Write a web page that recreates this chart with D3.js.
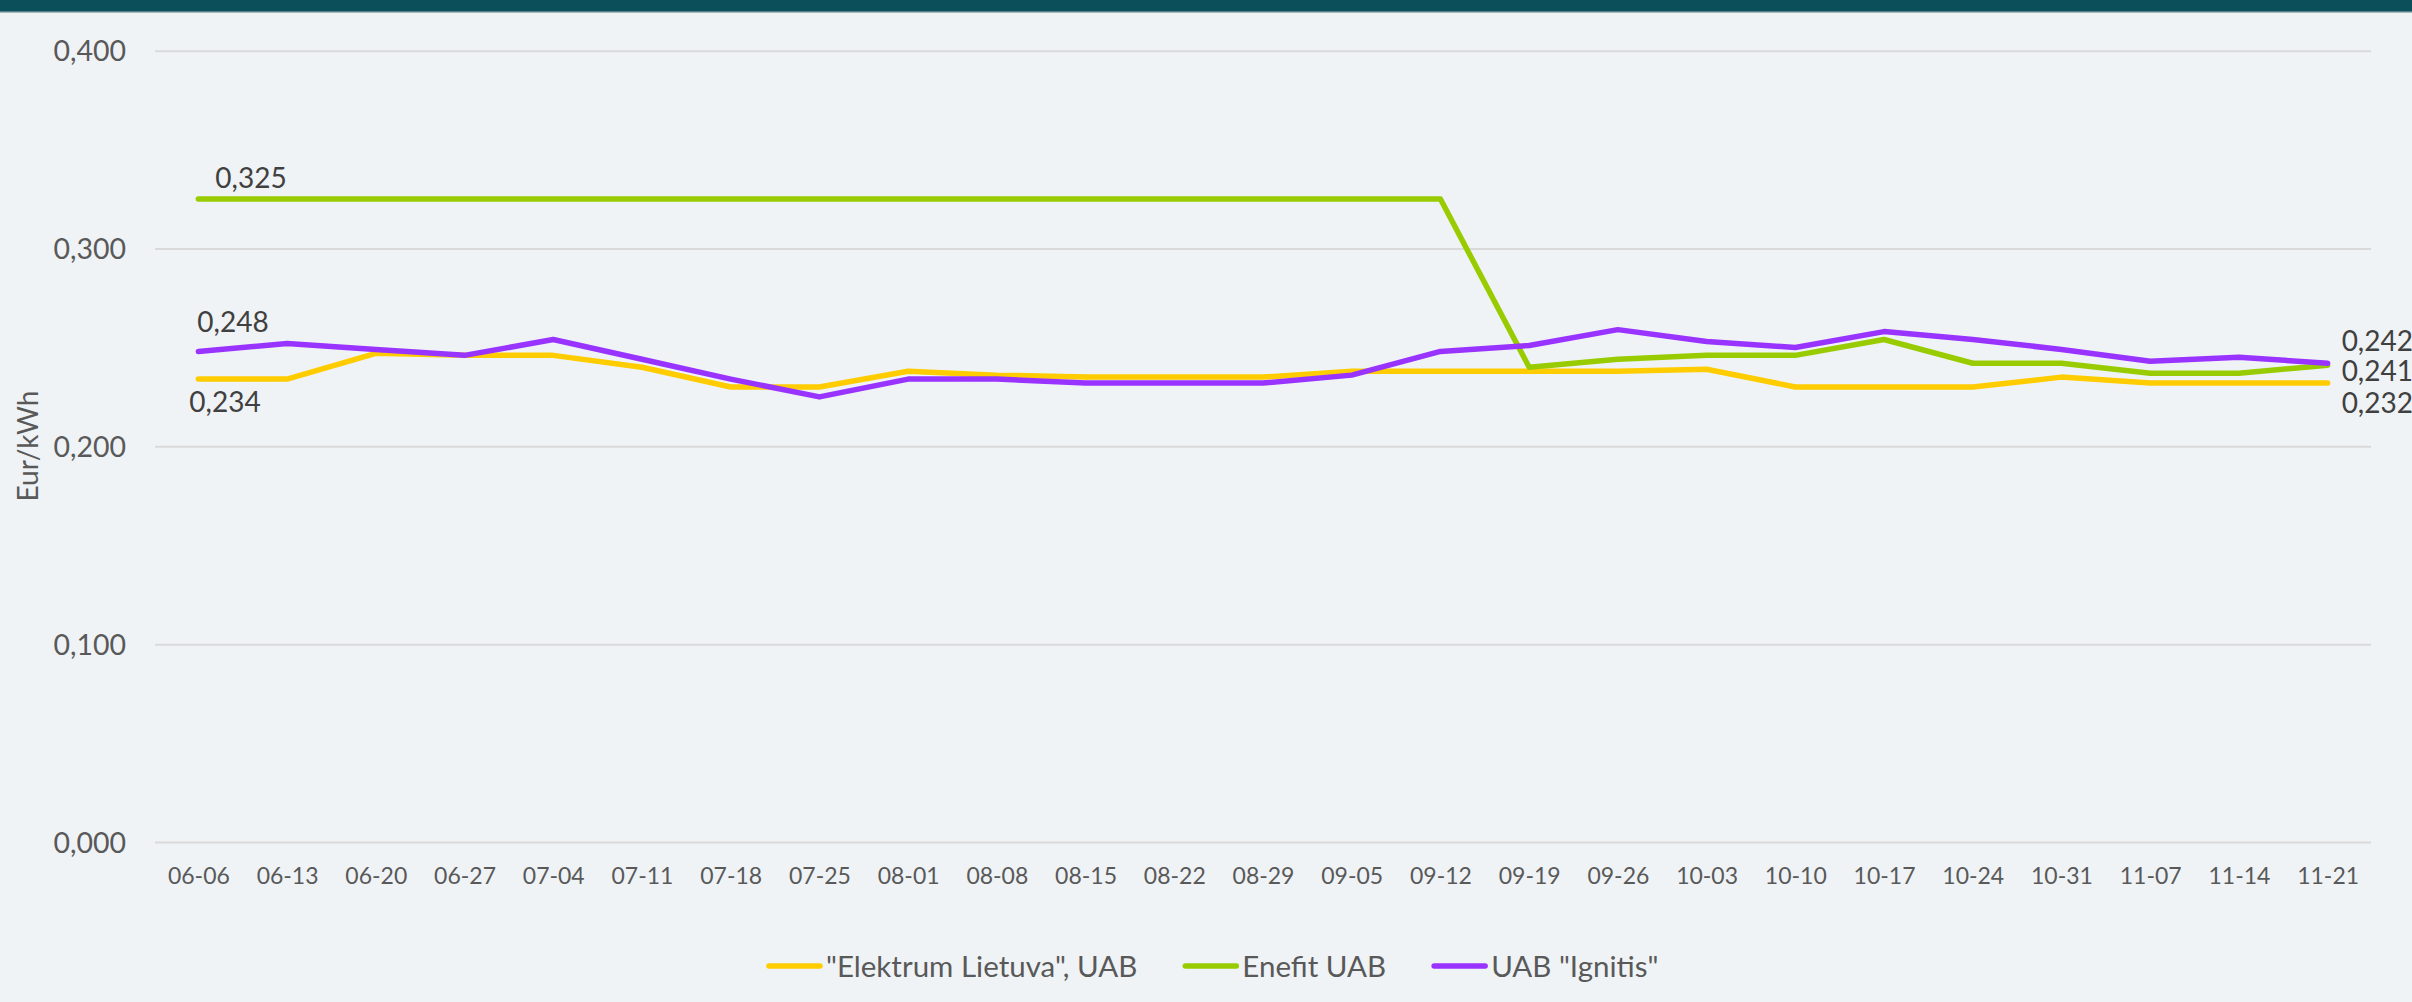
<!DOCTYPE html>
<html><head><meta charset="utf-8">
<script src="https://cdn.jsdelivr.net/npm/d3@7"></script>
<style>
html,body{margin:0;padding:0;background:#eff3f6;}
svg{display:block;}
text{font-family:Lato, "Open Sans", sans-serif;}
</style></head><body>
<svg id="chart" width="2412" height="1002"></svg>
<script>
const categories = ["06-06","06-13","06-20","06-27","07-04","07-11","07-18","07-25","08-01","08-08","08-15","08-22","08-29","09-05","09-12","09-19","09-26","10-03","10-10","10-17","10-24","10-31","11-07","11-14","11-21"];
const elektrum = [0.234,0.234,0.247,0.246,0.246,0.240,0.230,0.230,0.238,0.236,0.235,0.235,0.235,0.238,0.238,0.238,0.238,0.239,0.230,0.230,0.230,0.235,0.232,0.232,0.232];
const enefit   = [0.325,0.325,0.325,0.325,0.325,0.325,0.325,0.325,0.325,0.325,0.325,0.325,0.325,0.325,0.325,0.240,0.244,0.246,0.246,0.254,0.242,0.242,0.237,0.237,0.241];
const ignitis  = [0.248,0.252,0.249,0.246,0.254,0.244,0.234,0.225,0.234,0.234,0.232,0.232,0.232,0.236,0.248,0.251,0.259,0.253,0.250,0.258,0.254,0.249,0.243,0.245,0.242];
const seriesNames = ['"Elektrum Lietuva", UAB', 'Enefit UAB', 'UAB "Ignitis"'];
const seriesColors = ["#ffcc00", "#99cc00", "#9933ff"];
const yTicks = [0, 0.1, 0.2, 0.3, 0.4];
const yTitle = "Eur/kWh";

(function(){
const W = 2412, H = 1002;
const pLeft = 155, pRight = 2371, pTop = 50.7, pBottom = 842;
const svg = d3.select("#chart");
const loc = d3.formatLocale({decimal: ",", thousands: " ", grouping: [3], currency: ["", " €"]});
const fmt = loc.format(".3f");

svg.append("rect").attr("x",0).attr("y",0).attr("width",W).attr("height",H).attr("fill","#eff3f6");
svg.append("rect").attr("x",0).attr("y",0).attr("width",W).attr("height",12).attr("fill","#0b4f5a");
svg.append("rect").attr("x",0).attr("y",11).attr("width",W).attr("height",1.5).attr("fill","#5a8088");

const x = d3.scalePoint().domain(categories).range([154, 2372]).padding(0.5);
const y = d3.scaleLinear().domain([0, 0.4]).range([pBottom, pTop]);

// y axis + gridlines
const yAxis = svg.append("g").attr("transform", `translate(${pLeft},0)`)
  .call(d3.axisLeft(y).tickValues(yTicks).tickFormat(fmt).tickSizeInner(-(pRight-pLeft)).tickSizeOuter(0).tickPadding(29));
yAxis.select(".domain").remove();
yAxis.selectAll(".tick line").attr("stroke","#d9d9d9").attr("stroke-width",2);
yAxis.selectAll(".tick text").attr("fill","#595959").attr("font-size",28.5).attr("dy","0.36em").attr("font-family","Lato");

// x axis
const xAxis = svg.append("g").attr("transform", `translate(0,${pBottom})`)
  .call(d3.axisBottom(x).tickSize(0).tickPadding(26));
xAxis.select(".domain").remove();
xAxis.selectAll(".tick text").attr("fill","#595959").attr("font-size",23).attr("font-family","Lato");

// y title
svg.append("text").attr("transform","translate(38,446) rotate(-90)")
  .attr("text-anchor","middle").attr("font-size",28).attr("fill","#595959").text(yTitle);

// lines
const series = [elektrum, enefit, ignitis];
const line = d3.line().x((d,i)=>x(categories[i])).y(d=>y(d));
series.forEach((s, k) => {
  svg.append("path").datum(s).attr("d", line).attr("fill","none")
    .attr("stroke", seriesColors[k]).attr("stroke-width",5.5)
    .attr("stroke-linejoin","round").attr("stroke-linecap","round");
});

// data labels (first and last points)
const n = categories.length - 1;
const labels = [
  {s: enefit, i: 0, dx: 17, dy: -11},
  {s: ignitis, i: 0, dx: -1, dy: -19},
  {s: elektrum, i: 0, dx: -9, dy: 33},
  {s: ignitis, i: n, dx: 14, dy: -12},
  {s: enefit, i: n, dx: 14, dy: 16},
  {s: elektrum, i: n, dx: 14, dy: 30}
];
labels.forEach(l => {
  svg.append("text").attr("x", x(categories[l.i]) + l.dx).attr("y", y(l.s[l.i]) + l.dy)
    .attr("font-size",28).attr("fill","#404040").text(fmt(l.s[l.i]));
});

// legend
const lg = svg.append("g");
let cx = 0;
seriesNames.forEach((name, k) => {
  const g = lg.append("g").attr("transform", `translate(${cx},966)`);
  g.append("line").attr("x1",2).attr("x2",53).attr("y1",0).attr("y2",0)
    .attr("stroke",seriesColors[k]).attr("stroke-width",5.5).attr("stroke-linecap","round");
  const t = g.append("text").attr("x",59).attr("y",0).attr("dy","0.36em")
    .attr("font-size",29.5).attr("fill","#595959").text(name);
  const w = 59 + t.node().getComputedTextLength();
  cx += w + 46;
});
lg.attr("transform", `translate(767,0)`);
})();
</script>
</body></html>
